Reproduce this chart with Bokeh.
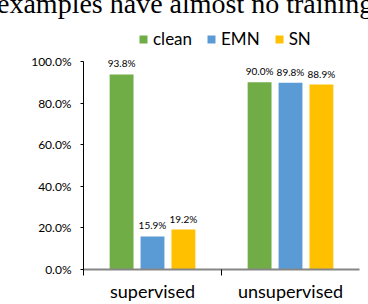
from bokeh.plotting import figure
from bokeh.models import (ColumnDataSource, Range1d, LinearAxis, FixedTicker,
                          NumeralTickFormatter, Legend, LegendItem, Div)
from bokeh.layouts import column
from bokeh.core.properties import value
from bokeh.embed import file_html
from bokeh.resources import INLINE

categories = ["supervised", "unsupervised"]
series = ["clean", "EMN", "SN"]
colors = ["#70AD47", "#5B9BD5", "#FFC000"]
clean = [0.938, 0.900]
emn = [0.159, 0.898]
sn = [0.192, 0.889]
y_ticks = [0.0, 0.2, 0.4, 0.6, 0.8, 1.0]
caption = "examples have almost no training"

FONT = "Lato"

head = Div(text=('<div style="width:368px;height:20px;overflow:hidden;position:relative;">'
                 '<span style="position:absolute;left:-3px;top:-10px;'
                 'font-family:\'Liberation Serif\';font-size:28px;line-height:28px;'
                 'white-space:nowrap;color:#000;">' + caption + '</span></div>'),
           width=368, height=20, margin=0)

p = figure(width=368, height=284, output_backend="svg", toolbar_location=None,
           x_range=Range1d(0, len(categories)), y_range=Range1d(0, 1.1971),
           x_axis_type=None, y_axis_type=None,
           min_border_left=83, min_border_right=9, min_border_top=0,
           min_border_bottom=35, margin=0)
p.outline_line_color = None
p.xgrid.visible = False
p.ygrid.visible = False

bar_w = 0.173
offsets = [-0.224, 0.0, 0.224]
renderers = []
for vals, off, col, name in zip([clean, emn, sn], offsets, colors, series):
    xs = [i + 0.5 + off for i in range(len(categories))]
    src = ColumnDataSource(dict(x=xs, top=vals,
                                lab=["%.1f%%" % (v * 100) for v in vals]))
    r = p.vbar(x="x", top="top", width=bar_w, source=src, fill_color=col,
               line_color=None)
    renderers.append((name, r))
    p.text(x="x", y="top", text="lab", source=src, text_align="center",
           text_baseline="bottom", y_offset=-5, text_font=value(FONT),
           text_font_size="10px", text_color="#000000")

# y axis
yax = LinearAxis(ticker=FixedTicker(ticks=y_ticks), bounds=(0, 1.0),
                 formatter=NumeralTickFormatter(format="0.0%"))
yax.axis_line_color = "#000000"
yax.axis_line_width = 1
yax.major_tick_out = 3
yax.major_tick_in = 0
yax.major_tick_line_color = "#000000"
yax.minor_tick_line_color = None
yax.major_label_text_font = FONT
yax.major_label_text_font_size = "12px"
yax.major_label_text_color = "#000000"
yax.major_label_standoff = 9
p.add_layout(yax, "left")

# x axis
xax = LinearAxis(ticker=FixedTicker(ticks=[i + 0.5 for i in range(len(categories))],
                                    minor_ticks=[float(i) for i in range(len(categories))]))
xax.major_label_overrides = {i + 0.5: c for i, c in enumerate(categories)}
xax.axis_line_color = "#868686"
xax.axis_line_width = 2
xax.major_tick_line_color = None
xax.major_tick_out = 0
xax.major_tick_in = 0
xax.minor_tick_line_color = "#000000"
xax.minor_tick_out = 6
xax.minor_tick_in = 0
xax.major_label_text_font = FONT
xax.major_label_text_font_size = "18px"
xax.major_label_text_color = "#000000"
xax.major_label_standoff = 4
p.add_layout(xax, "below")

legend = Legend(items=[LegendItem(label=n, renderers=[r]) for n, r in renderers],
                orientation="horizontal", location=(55, 220))
legend.glyph_width = 10
legend.glyph_height = 10
legend.label_standoff = 5
legend.spacing = 14
legend.padding = 0
legend.margin = 0
legend.border_line_color = None
legend.background_fill_alpha = 0
legend.label_text_font = FONT
legend.label_text_font_size = "17px"
legend.label_text_color = "#000000"
legend.label_height = 18
p.add_layout(legend, "center")

layout = column(head, p, spacing=0, margin=0)
open("out.html", "w").write(file_html(layout, INLINE))
